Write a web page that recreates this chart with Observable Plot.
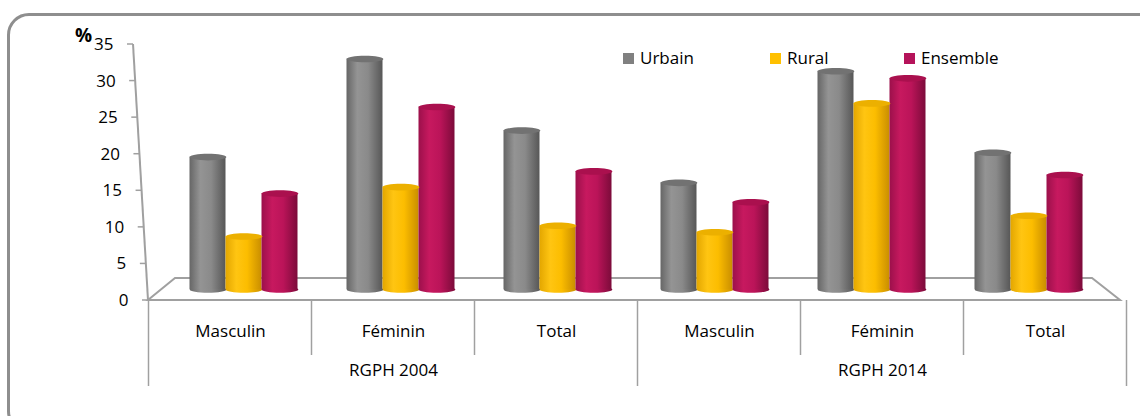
<!DOCTYPE html>
<html>
<head>
<meta charset="utf-8">
<script src="https://cdn.jsdelivr.net/npm/d3@7"></script>
<script src="https://cdn.jsdelivr.net/npm/@observablehq/plot@0.6"></script>
<style>
  body { margin: 0; background: #fff; overflow: hidden; }
  #wrap { position: relative; width: 1140px; height: 416px; overflow: hidden; font-family: "Open Sans", sans-serif; }
  #frame { position: absolute; left: 7px; top: 13px; width: 1160px; height: 420px; border: 3px solid #8e8e8e; border-radius: 22px; box-sizing: border-box; }
  .layer { position: absolute; left: 0; top: 0; }
  .sw { position: absolute; width: 11px; height: 11px; top: 53px; }
  .lt { position: absolute; top: 48px; font-size: 17px; line-height: 20px; color: #000; }
</style>
</head>
<body>
<div id="wrap">
  <div id="frame"></div>
  <div id="axes" class="layer"></div>
  <div id="bars" class="layer"></div>
  <div id="legend" class="layer"></div>
</div>
<script>
// ---- data ----
const groups = ["RGPH 2004", "RGPH 2014"];
const categories = ["Masculin", "Féminin", "Total"];
const series = ["Urbain", "Rural", "Ensemble"];
const urbain   = [18.5, 32.2, 22.2, 14.9, 30.5, 19.1];
const rural    = [7.4, 14.3, 8.9, 8.0, 26.0, 10.3];
const ensemble = [13.4, 25.5, 16.5, 12.2, 29.5, 16.0];
const yTicks = [0, 5, 10, 15, 20, 25, 30, 35];

// ---- styles ----
const legendColors = ["#808080", "#ffc000", "#b5135a"];
const topColors = ["#727272", "#ecb000", "#aa104e"];
const gradStops = [
  [["0", "#666666"], ["0.3", "#949494"], ["0.6", "#8a8a8a"], ["1", "#575757"]],
  [["0", "#e3a600"], ["0.3", "#ffc512"], ["0.6", "#fcbd00"], ["1", "#c98e00"]],
  [["0", "#9c104b"], ["0.3", "#c7195f"], ["0.6", "#bb1459"], ["1", "#7c0b3a"]]
];
const lineColor = "#a0a0a0";

const keys = groups.flatMap(g => categories.map(c => g + "|" + c));
const valuesBySeries = [urbain, rural, ensemble];
const rows = keys.flatMap((k, i) => series.map((s, j) => ({key: k, series: s, si: j, value: valuesBySeries[j][i]})));

// ellipse symbol for cylinder caps
const ellipse = {
  draw(ctx, size) {
    const rx = Math.sqrt(size / Math.PI), ry = rx * 0.18, k = 0.5523;
    ctx.moveTo(rx, 0);
    ctx.bezierCurveTo(rx, ry * k, rx * k, ry, 0, ry);
    ctx.bezierCurveTo(-rx * k, ry, -rx, ry * k, -rx, 0);
    ctx.bezierCurveTo(-rx, -ry * k, -rx * k, -ry, 0, -ry);
    ctx.bezierCurveTo(rx * k, -ry, rx, -ry * k, rx, 0);
    ctx.closePath();
  }
};

// ---- front plane: axes, labels ----
const axisPlot = Plot.plot({
  width: 1140, height: 416,
  marginLeft: 148, marginRight: 14, marginTop: 44, marginBottom: 116,
  style: {fontFamily: "Open Sans, sans-serif", fontSize: "17px", color: "#000", background: "transparent"},
  x: {type: "point", domain: keys, padding: 0.5, axis: null},
  y: {domain: [0, 35], axis: null},
  marks: [
    Plot.text(keys, {x: d => d, text: d => d.split("|")[1], frameAnchor: "bottom", dy: 31, textAnchor: "middle", lineAnchor: "middle", fontSize: 17, fill: "#000"}),
    Plot.text(groups, {x: g => g + "|" + categories[1], text: d => d, frameAnchor: "bottom", dy: 70, textAnchor: "middle", lineAnchor: "middle", fontSize: 17, fill: "#000"}),
    ...yTicks.map(v => Plot.text([v], {y: d => d, text: d => String(d), frameAnchor: "left", textAnchor: "end", lineAnchor: "middle", dx: -(20 + 15 * v / 35), fontSize: 17, fill: "#000"})),
    Plot.text(["%"], {frameAnchor: "top-left", textAnchor: "middle", lineAnchor: "middle", dx: -65, dy: -9, fontWeight: "bold", fontSize: 19, fill: "#000"})
  ]
});
document.getElementById("axes").appendChild(axisPlot);

// ---- mid-depth plane: cylinders ----
const barPlot = Plot.plot({
  width: 1140, height: 416,
  marginLeft: 161.5, marginRight: 31, marginTop: 38.5, marginBottom: 127,
  style: {background: "transparent"},
  fx: {domain: keys, paddingInner: 0.3, paddingOuter: 0.15, axis: null, label: null},
  x: {domain: series, paddingInner: 0, paddingOuter: 0, axis: null},
  y: {domain: [0, 35], axis: null},
  color: {type: "identity"},
  marks: [
    Plot.dot(rows, {fx: "key", x: "series", y: d => 0, r: 18.35, symbol: ellipse, fill: d => `url(#cyl${d.si})`, stroke: "none"}),
    Plot.barY(rows, {fx: "key", x: "series", y: "value", fill: d => `url(#cyl${d.si})`}),
    Plot.dot(rows, {fx: "key", x: "series", y: "value", r: 18.35, symbol: ellipse, fill: d => topColors[d.si], stroke: "none"})
  ]
});
document.getElementById("bars").appendChild(barPlot);

const defs = d3.select(barPlot).insert("defs", ":first-child");
gradStops.forEach((stops, j) => {
  const g = defs.append("linearGradient").attr("id", "cyl" + j).attr("x1", 0).attr("x2", 1).attr("y1", 0).attr("y2", 0);
  stops.forEach(([o, c]) => g.append("stop").attr("offset", o).attr("stop-color", c));
});

// ---- decorations from the scales ----
const xs = axisPlot.scale("x"), ys = axisPlot.scale("y");
const fxs = barPlot.scale("fx"), bys = barPlot.scale("y");
const [f0, f1] = xs.range;
const yFront = ys.apply(0);
const yMid = bys.apply(0);
const [m0, m1] = fxs.range;
const yBack = yFront + 2 * (yMid - yFront);
const b0 = f0 + 2 * (m0 - f0), b1 = f1 + 2 * (m1 - f1);

const deco = d3.select(axisPlot).insert("g", ":first-child").attr("fill", "none").attr("stroke", lineColor);
// floor
deco.append("path").attr("stroke-width", 2)
  .attr("d", `M${f0},${yFront}L${f1 - 6},${yFront}L${b1},${yBack}L${b0},${yBack}Z`);
// slanted value axis
const slant = v => f0 - 15 * v / 35;
deco.append("line").attr("stroke-width", 2)
  .attr("x1", slant(0)).attr("y1", yFront).attr("x2", slant(35)).attr("y2", ys.apply(35));
yTicks.forEach(v => {
  deco.append("line").attr("stroke-width", 1.5)
    .attr("x1", slant(v) - 6).attr("x2", slant(v)).attr("y1", ys.apply(v)).attr("y2", ys.apply(v));
});
// category separators (half a step either side of each category centre)
const step = (f1 - f0) / keys.length;
const edges = keys.map(k => xs.apply(k) - step / 2).concat([xs.apply(keys[keys.length - 1]) + step / 2]);
edges.forEach((x, i) => {
  const long = i % categories.length === 0;
  deco.append("line").attr("stroke-width", 1.5)
    .attr("x1", x).attr("x2", x).attr("y1", yFront).attr("y2", yFront + (long ? 86 : 55));
});

// ---- legend ----
const legend = document.getElementById("legend");
const legX = [623, 770, 904];
series.forEach((s, j) => {
  const sw = document.createElement("div");
  sw.className = "sw"; sw.style.left = legX[j] + "px"; sw.style.background = legendColors[j];
  const t = document.createElement("div");
  t.className = "lt"; t.style.left = (legX[j] + 17) + "px"; t.textContent = s;
  legend.appendChild(sw); legend.appendChild(t);
});
</script>
</body>
</html>
